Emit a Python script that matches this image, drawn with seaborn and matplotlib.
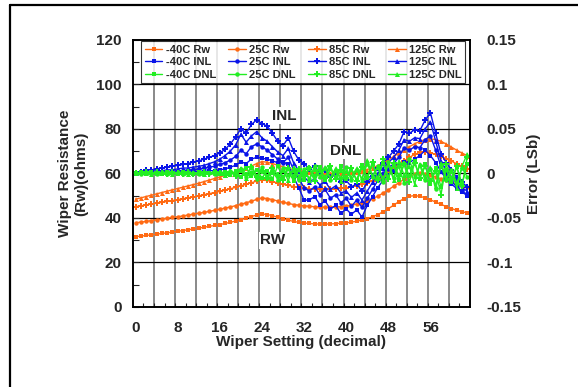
import matplotlib
matplotlib.use("Agg")
import matplotlib.pyplot as plt
from matplotlib.lines import Line2D
import seaborn as sns
import numpy as np

sns.set_style("white")
plt.rcParams['font.family'] = ['Liberation Sans', 'DejaVu Sans']
plt.rcParams['font.weight'] = 'bold'

wiper = list(range(64))
temps = ["-40C", "25C", "85C", "125C"]

# wiper resistance (ohms), left axis
rw_m40 = [31.5, 31.8, 32.1, 32.4, 32.7, 33.0, 33.3, 33.6,
          34.0, 34.3, 34.7, 35.0, 35.4, 35.8, 36.2, 36.6,
          37.0, 37.5, 38.0, 38.6, 39.2, 39.9, 40.6, 41.3,
          41.8, 41.5, 41.0, 40.3, 39.6, 39.0, 38.4, 38.0,
          37.7, 37.5, 37.3, 37.2, 37.2, 37.3, 37.4, 37.6,
          37.8, 38.1, 38.5, 39.0, 39.7, 40.5, 41.5, 42.7,
          44.1, 45.7, 47.3, 48.7, 49.7, 50.0, 49.7, 49.0,
          48.1, 47.1, 46.1, 45.1, 44.2, 43.4, 42.8, 42.2]
rw_25 = [37.8, 38.1, 38.4, 38.8, 39.1, 39.5, 39.8, 40.2,
         40.5, 40.9, 41.3, 41.7, 42.1, 42.5, 42.9, 43.4,
         43.9, 44.4, 44.9, 45.5, 46.1, 46.8, 47.5, 48.3,
         48.9, 48.7, 48.2, 47.6, 47.0, 46.5, 46.0, 45.7,
         45.4, 45.2, 45.0, 44.9, 44.8, 44.8, 44.9, 45.1,
         45.3, 45.7, 46.2, 46.8, 47.6, 48.6, 49.8, 51.1,
         52.6, 54.2, 55.8, 57.4, 58.7, 59.7, 60.0, 59.8,
         59.2, 58.4, 57.6, 56.8, 56.0, 55.2, 54.5, 53.8]
rw_85 = [45.0, 45.4, 45.8, 46.2, 46.6, 47.0, 47.4, 47.8,
         48.2, 48.6, 49.0, 49.4, 49.9, 50.4, 50.9, 51.4,
         51.9, 52.5, 53.1, 53.7, 54.4, 55.1, 55.8, 56.5,
         57.0, 56.8, 56.3, 55.7, 55.1, 54.6, 54.1, 53.7,
         53.4, 53.2, 53.0, 52.9, 52.9, 53.0, 53.1, 53.3,
         53.6, 54.0, 54.5, 55.1, 55.8, 56.7, 57.8, 59.1,
         60.6, 62.2, 63.9, 65.6, 67.2, 68.5, 69.4, 69.6,
         69.2, 68.5, 67.6, 66.6, 65.5, 64.3, 63.1, 62.0]
rw_125 = [48.4, 49.0, 49.6, 50.2, 50.8, 51.4, 52.0, 52.6,
          53.2, 53.8, 54.4, 55.0, 55.6, 56.3, 57.0, 57.7,
          58.4, 59.1, 59.8, 60.6, 61.4, 62.3, 63.3, 64.4,
          65.3, 65.0, 64.4, 63.7, 63.0, 62.3, 61.7, 61.2,
          60.8, 60.5, 60.3, 60.1, 60.0, 60.0, 60.0, 60.1,
          60.2, 60.4, 60.7, 61.1, 61.7, 62.5, 63.5, 64.7,
          66.1, 67.6, 69.1, 70.6, 72.0, 73.3, 74.4, 75.2,
          75.5, 75.2, 74.4, 73.2, 71.8, 70.4, 69.1, 68.0]

# INL error (LSb), right axis
inl_m40 = [0.000, 0.000, 0.000, 0.000, 0.000, 0.000, 0.001, 0.001,
           0.001, 0.001, 0.001, 0.002, 0.002, 0.002, 0.003, 0.003,
           0.004, 0.005, 0.007, 0.009, 0.013, 0.011, 0.016, 0.018,
           0.017, 0.016, 0.014, 0.012, 0.013, 0.010, -0.004, -0.016,
           -0.030, -0.030, -0.026, -0.035, -0.031, -0.040, -0.036, -0.045,
           -0.040, -0.046, -0.041, -0.049, -0.036, -0.026, -0.016, -0.008,
           -0.002, 0.003, 0.008, 0.013, 0.012, 0.016, 0.020, 0.026,
           0.020, 0.012, 0.002, -0.006, -0.012, -0.017, -0.021, -0.025]
inl_25 = [0.000, 0.000, 0.001, 0.001, 0.001, 0.002, 0.002, 0.002,
          0.003, 0.003, 0.004, 0.004, 0.005, 0.006, 0.007, 0.008,
          0.010, 0.012, 0.015, 0.019, 0.026, 0.022, 0.030, 0.033,
          0.030, 0.026, 0.021, 0.016, 0.012, 0.018, 0.004, -0.006,
          -0.016, -0.020, -0.015, -0.024, -0.018, -0.028, -0.024, -0.033,
          -0.028, -0.037, -0.030, -0.038, -0.028, -0.018, -0.008, 0.000,
          0.005, 0.011, 0.018, 0.029, 0.026, 0.030, 0.029, 0.038,
          0.042, 0.026, 0.008, -0.002, -0.009, -0.015, -0.020, -0.024]
inl_85 = [0.000, 0.002, 0.004, 0.004, 0.005, 0.006, 0.007, 0.008,
          0.009, 0.010, 0.011, 0.013, 0.014, 0.016, 0.018, 0.020,
          0.023, 0.027, 0.033, 0.041, 0.050, 0.045, 0.055, 0.060,
          0.056, 0.053, 0.045, 0.036, 0.031, 0.040, 0.025, 0.015,
          0.011, 0.005, 0.008, 0.001, 0.004, -0.004, -0.002, -0.010,
          -0.008, -0.015, -0.012, -0.020, -0.010, -0.003, 0.006, 0.012,
          0.018, 0.025, 0.033, 0.047, 0.045, 0.049, 0.048, 0.060,
          0.068, 0.045, 0.022, 0.012, 0.004, -0.005, -0.010, -0.015]
inl_125 = [0.000, 0.001, 0.002, 0.002, 0.003, 0.003, 0.004, 0.004,
           0.005, 0.006, 0.006, 0.007, 0.008, 0.009, 0.011, 0.013,
           0.016, 0.020, 0.025, 0.032, 0.044, 0.035, 0.042, 0.047,
           0.040, 0.036, 0.030, 0.024, 0.020, 0.028, 0.012, 0.003,
           -0.004, -0.010, -0.006, -0.013, -0.009, -0.018, -0.014, -0.022,
           -0.020, -0.027, -0.022, -0.030, -0.020, -0.010, 0.000, 0.006,
           0.012, 0.018, 0.026, 0.038, 0.036, 0.040, 0.039, 0.050,
           0.058, 0.036, 0.014, 0.004, -0.004, -0.011, -0.016, -0.020]

# DNL error (LSb), right axis
dnl_m40 = [0.000, 0.001, -0.001, 0.001, 0.000, -0.001, 0.001, 0.000,
           -0.001, 0.001, 0.000, -0.001, 0.001, -0.001, 0.000, 0.001,
           -0.001, 0.002, -0.002, 0.003, -0.004, 0.006, -0.003, 0.004,
           -0.005, 0.003, -0.006, 0.008, -0.004, 0.005, -0.009, 0.004,
           -0.007, 0.006, -0.003, 0.007, -0.008, 0.005, -0.004, 0.008,
           -0.006, 0.004, -0.007, 0.009, -0.005, 0.010, -0.006, 0.012,
           -0.004, 0.009, -0.008, 0.011, -0.003, 0.014, -0.006, 0.010,
           -0.012, 0.006, -0.015, 0.004, -0.010, 0.007, -0.012, 0.010]
dnl_25 = [0.000, -0.001, 0.001, 0.000, -0.001, 0.001, -0.001, 0.000,
          0.001, -0.001, 0.001, 0.000, -0.001, 0.001, 0.000, -0.001,
          0.002, -0.001, 0.003, -0.002, 0.005, -0.004, 0.002, -0.006,
          0.007, -0.003, 0.004, -0.007, 0.006, -0.002, 0.003, -0.008,
          0.005, -0.006, 0.008, -0.004, 0.006, -0.007, 0.003, -0.005,
          0.007, -0.008, 0.004, -0.006, 0.011, -0.004, 0.008, -0.010,
          0.013, -0.005, 0.008, -0.011, 0.016, -0.004, 0.009, -0.008,
          0.005, -0.018, 0.009, -0.007, 0.004, -0.011, 0.006, -0.004]
dnl_85 = [0.000, 0.000, 0.001, -0.001, 0.001, 0.000, -0.001, 0.001,
          0.000, -0.001, 0.001, -0.001, 0.000, 0.001, -0.001, 0.001,
          0.000, -0.002, 0.002, -0.003, 0.004, -0.002, 0.007, -0.004,
          0.003, -0.005, 0.006, -0.002, -0.008, 0.006, -0.004, 0.005,
          -0.003, 0.006, -0.009, 0.004, -0.005, 0.008, -0.006, 0.004,
          -0.005, 0.006, -0.009, 0.007, -0.004, 0.013, -0.007, 0.016,
          -0.006, 0.012, -0.003, 0.010, -0.010, 0.012, -0.005, 0.008,
          -0.009, 0.003, -0.024, 0.010, -0.006, 0.008, -0.014, 0.018]
dnl_125 = [0.000, 0.001, 0.000, -0.001, 0.000, 0.001, 0.000, -0.001,
           0.001, 0.000, -0.001, 0.001, 0.000, -0.001, 0.001, 0.000,
           0.001, -0.002, 0.003, -0.001, 0.006, -0.005, 0.009, -0.003,
           0.005, -0.004, 0.002, -0.006, 0.004, -0.008, 0.007, -0.003,
           0.004, -0.007, 0.005, -0.003, 0.007, -0.005, 0.006, -0.009,
           0.003, -0.004, 0.006, -0.007, 0.015, -0.003, 0.007, -0.006,
           0.010, -0.007, 0.014, -0.002, 0.008, -0.012, 0.011, -0.004,
           0.007, -0.014, 0.012, -0.005, 0.003, -0.016, 0.008, 0.022]

rw_series = [rw_m40, rw_25, rw_85, rw_125]
inl_series = [inl_m40, inl_25, inl_85, inl_125]
dnl_series = [dnl_m40, dnl_25, dnl_85, dnl_125]
markers = ["s", "o", "P", "^"]
msizes = [3.5, 3.2, 3.8, 3.6]
c_rw, c_inl, c_dnl = "#FF6A13", "#0A14E8", "#22EE22"

fig = plt.figure(figsize=(5.78, 3.87), dpi=100)
ax = fig.add_axes([0.230, 0.207, 0.583, 0.690])
ax2 = ax.twinx()

handles = {}
for t, m, ms, rw in zip(temps, markers, msizes, rw_series):
    sns.lineplot(x=wiper, y=rw, ax=ax, color=c_rw, marker=m, markersize=ms,
                 markeredgewidth=0, linewidth=1.0, legend=False)
    handles[(t, "Rw")] = ax.get_lines()[-1]
for t, m, ms, inl in zip(temps, markers, msizes, inl_series):
    sns.lineplot(x=wiper, y=inl, ax=ax2, color=c_inl, marker=m, markersize=ms,
                 markeredgewidth=0, linewidth=1.0, legend=False)
    handles[(t, "INL")] = ax2.get_lines()[-1]
for t, m, ms, dnl in zip(temps, markers, msizes, dnl_series):
    sns.lineplot(x=wiper, y=dnl, ax=ax2, color=c_dnl, marker=m, markersize=ms,
                 markeredgewidth=0, linewidth=1.0, legend=False)
    handles[(t, "DNL")] = ax2.get_lines()[-1]

ax.set_xlim(-0.5, 63.5)
ax.set_ylim(0, 120)
ax2.set_ylim(-0.15, 0.15)

# grid: grey verticals every 4 settings, black horizontals every 20 ohms
for gx in np.arange(3.5, 63, 4):
    ax.axvline(gx, color="#808080", lw=1.3, zorder=0)
for gy in range(20, 120, 20):
    ax.axhline(gy, color="black", lw=0.9, zorder=0)

ax.set_xticks(range(0, 64, 8))
ax.set_xticks(np.arange(1.5, 63, 2), minor=True)
ax.set_yticks(range(0, 121, 20))
ax.set_yticks(range(10, 120, 20), minor=True)
ax.tick_params(axis="x", which="major", length=0, pad=10, labelsize=11)
ax.tick_params(axis="x", which="minor", direction="in", length=3, width=0.8, bottom=True)
ax.tick_params(axis="y", which="both", direction="in", length=4, width=0.8, left=True, labelsize=11, pad=8)
ax2.set_yticks([-0.15, -0.1, -0.05, 0, 0.05, 0.1, 0.15])
ax2.set_yticklabels(["-0.15", "-0.1", "-0.05", "0", "0.05", "0.1", "0.15"])
ax2.tick_params(axis="y", length=0, labelsize=11, pad=12)

for a in (ax, ax2):
    for s in a.spines.values():
        s.set_color("black")
        s.set_linewidth(1.2)

ax.set_xlabel("Wiper Setting (decimal)", fontsize=11, fontweight="bold", labelpad=0)
ax.set_ylabel("Wiper Resistance\n(Rw)(ohms)", fontsize=11, fontweight="bold", labelpad=6)
ax2.set_ylabel("Error (LSb)", fontsize=11, fontweight="bold")
ax2.yaxis.set_label_coords(1.168, 0.5)

bbox = dict(facecolor="white", edgecolor="none", pad=1)
ax.text(28.3, 86, "INL", fontsize=11, fontweight="bold", ha="center", va="center", bbox=bbox, zorder=5)
ax.text(39.8, 70, "DNL", fontsize=11, fontweight="bold", ha="center", va="center", bbox=bbox, zorder=5)
ax.text(26, 30, "RW", fontsize=11, fontweight="bold", ha="center", va="center", bbox=bbox, zorder=5)

leg_h, leg_l = [], []
for t in temps:
    for kind in ["Rw", "INL", "DNL"]:
        leg_h.append(handles[(t, kind)])
        leg_l.append(f"{t} {kind}")
leg = ax2.legend(leg_h, leg_l, ncol=4, loc="upper left", bbox_to_anchor=(0.025, 0.995),
                 fontsize=8, frameon=True, fancybox=False, edgecolor="black",
                 handlelength=1.6, handletextpad=0.3, columnspacing=1.1,
                 labelspacing=0.25, borderpad=0.3, borderaxespad=0)
leg.get_frame().set_linewidth(0.8)
for txt in leg.get_texts():
    txt.set_fontweight("bold")

# outer frame (left and top edges)
fig.add_artist(Line2D([0.0173, 0.0173], [0.0, 0.987], color="black", lw=1.6))
fig.add_artist(Line2D([0.0173, 1.0], [0.987, 0.987], color="black", lw=1.6))

plt.savefig("out.png", dpi=100)
plt.close()
